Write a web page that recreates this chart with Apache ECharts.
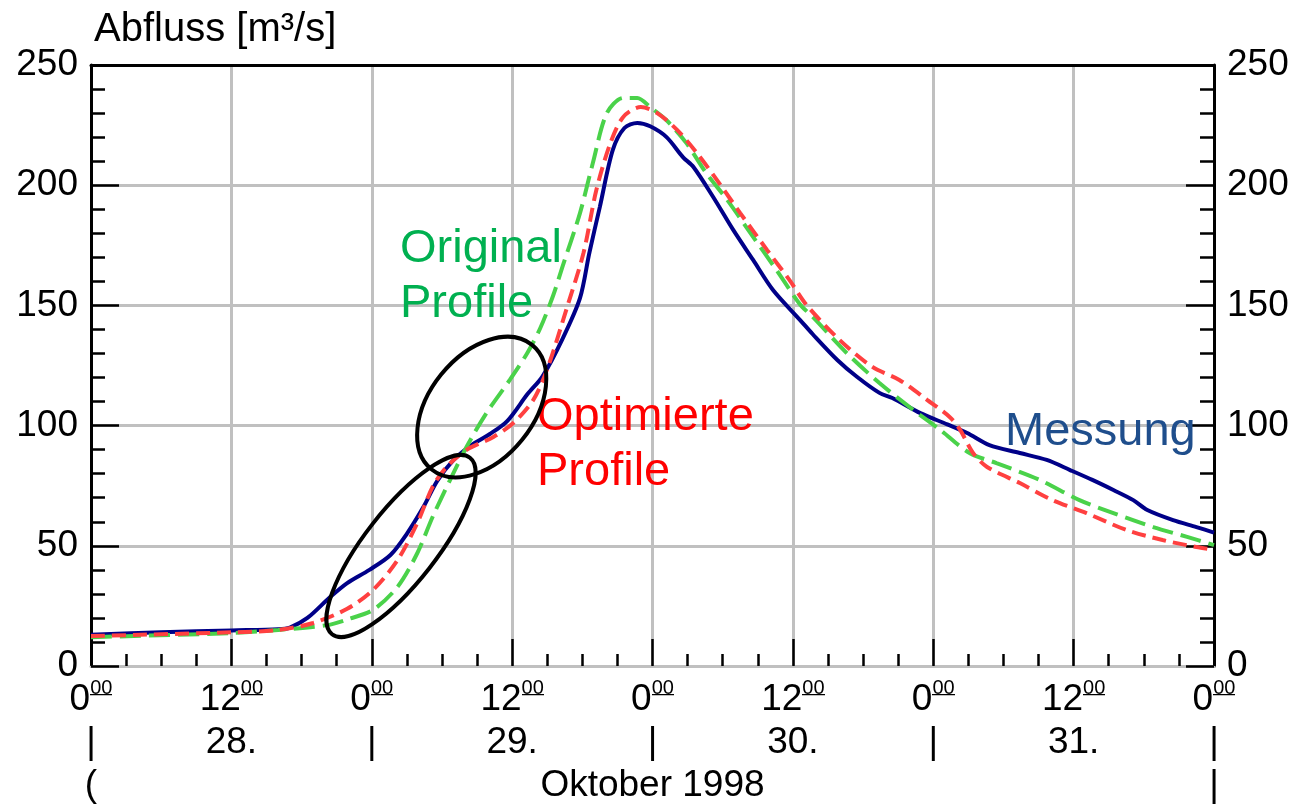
<!DOCTYPE html>
<html>
<head>
<meta charset="utf-8">
<script src="https://cdn.jsdelivr.net/npm/echarts@6/dist/echarts.min.js"></script>
<style>
  html, body { margin: 0; padding: 0; background: #fff; }
  #chart { width: 1292px; height: 804px; }
</style>
</head>
<body>
<div id="chart"></div>
<script>
// Stunden ab 28.10.1998 0:00
const messHours = [0, 6, 12, 16, 17, 18.5, 20.4, 21.9, 23.8, 25.6, 27, 28.4, 29.6, 31, 32.4, 34.1, 35.6, 37.3, 38.6, 40.3, 41.8, 42.6, 43.5, 44.6, 45.6, 46.7, 47.8, 49.2, 50.6, 51.5, 53.2, 54.9, 56.6, 58.3, 60.6, 61.7, 63.8, 65.5, 67.4, 68.5, 70.9, 73.2, 74.9, 76.8, 79.4, 81.7, 83.7, 85.6, 87.4, 89.1, 90.3, 92.5, 94.5, 96];
const messValues = [13, 14, 14.8, 15.3, 16, 20, 28.5, 34.5, 40, 46.2, 55, 66, 77, 85.7, 91.5, 96.5, 102, 113, 120.5, 136, 153, 171.8, 191, 214.6, 223.8, 225.9, 224.5, 220, 211.7, 207.6, 195, 181.4, 168.9, 156.4, 144, 138, 127.3, 120.2, 113.6, 111.5, 105.2, 100.5, 96.9, 91.9, 88.6, 85.7, 81.5, 77.4, 73.2, 69, 64.9, 60.7, 57.8, 55.5];

const origHours = [0, 12, 16, 20.2, 22, 24.1, 26.2, 27.9, 29.2, 30.7, 32.1, 33.8, 35.8, 37.3, 38.4, 39.5, 40.3, 41.8, 42.9, 44.1, 45.5, 46.7, 47.8, 49.2, 50.9, 52.6, 54.4, 56.6, 58.6, 60.6, 61.7, 64.6, 67.4, 70.3, 72.6, 75.1, 77.4, 81.1, 84.5, 87.4, 90.8, 93.7, 96];
const origValues = [12, 13.7, 15, 17, 19.5, 23.3, 32.9, 47, 62, 77.4, 91.1, 105.2, 119, 130.2, 140.5, 154, 166, 188.4, 209.2, 230, 236.3, 236.3, 232.5, 227, 217.5, 205, 193.8, 178.5, 164.7, 150.5, 145.2, 130.2, 117.7, 106.5, 98.2, 88.6, 84.4, 77.4, 69, 63.6, 57.8, 53.7, 50.3];

const optHours = [0, 12, 16, 19, 21.9, 24.1, 26.2, 27.9, 29.2, 30.4, 32.1, 34.4, 36.1, 37.8, 39, 40.7, 42.1, 43.2, 44.4, 45.5, 47, 48.4, 50.1, 51.8, 53.5, 55.5, 57.8, 59.7, 61.2, 64, 66.8, 69.1, 71.5, 73.4, 74.3, 75.4, 76.6, 79.4, 82.2, 85.1, 88.5, 91.6, 94.5, 96];
const optValues = [12.5, 14, 15, 17.9, 23.8, 31.6, 44, 59.5, 74.5, 82.8, 89.9, 95.3, 101.1, 110.6, 123.5, 149.3, 171.8, 198, 217.5, 228.4, 232.5, 230, 223, 213.4, 202.2, 188.4, 173, 160.6, 150, 135.6, 124.4, 119, 110.6, 103.6, 98.2, 88.6, 82.8, 76.1, 69, 63.6, 56.6, 52.4, 49.5, 48.3];

const dayLabels = ['28.', '29.', '30.', '31.'];
const monthLabel = 'Oktober 1998';

const FONT = "'Liberation Sans', Arial, sans-serif";

function pairs(hours, values) {
  return hours.map((h, i) => [h, values[i]]);
}

// Unterstrich fuer die hochgestellten Minuten
const ul = document.createElement('canvas');
ul.width = 10; ul.height = 30;
const ulc = ul.getContext('2d');
ulc.fillStyle = '#000';
ulc.fillRect(0, 24, 10, 2);

const mychart = echarts.init(document.getElementById('chart'));

const gridColor = '#c0c0c0';

const option = {
  animation: false,
  title: {
    text: 'Abfluss [m³/s]',
    left: 89,
    top: 5,
    textStyle: { fontFamily: FONT, fontSize: 40, fontWeight: 'normal', color: '#000' }
  },
  grid: { left: 91, right: 78, top: 65, bottom: 138, outerBoundsMode: 'none' },
  xAxis: [
    {
      type: 'value',
      min: 0,
      max: 96,
      interval: 12,
      axisLine: { lineStyle: { color: gridColor, width: 3 } },
      axisTick: { inside: true, length: 27, lineStyle: { color: '#000', width: 2.5 } },
      minorTick: { show: true, splitNumber: 4, length: 12, lineStyle: { color: '#000', width: 2.5 } },
      splitLine: { lineStyle: { color: gridColor, width: 3 } },
      axisLabel: {
        margin: 12,
        fontFamily: FONT,
        fontSize: 37,
        lineHeight: 43,
        color: '#000',
        formatter: function (v) {
          const hh = v % 24;
          const line1 = '{n|' + hh + '}{s|00}';
          const line2 = hh === 0 ? '{n||}' : '{n|' + dayLabels[Math.floor(v / 24)] + '}';
          let line3 = '{n| }';
          if (v === 0) line3 = '{n|(}';
          if (v === 48) line3 = '{n|' + monthLabel + '}';
          if (v === 96) line3 = '{n||}';
          return line1 + '\n' + line2 + '\n' + line3;
        },
        rich: {
          n: { fontFamily: FONT, fontSize: 37, lineHeight: 43, color: '#000' },
          s: {
            fontFamily: FONT, fontSize: 20, lineHeight: 30, color: '#000',
            verticalAlign: 'top',
            backgroundColor: { image: ul }
          }
        }
      }
    },
    {
      type: 'value',
      position: 'top',
      min: 0,
      max: 96,
      axisLine: { show: true, onZero: false, lineStyle: { color: '#000', width: 3 } },
      axisTick: { show: false },
      axisLabel: { show: false },
      splitLine: { show: false }
    }
  ],
  yAxis: [
    {
      type: 'value',
      min: 0,
      max: 250,
      interval: 50,
      axisLine: { show: true, onZero: false, lineStyle: { color: '#000', width: 3 } },
      axisTick: { show: true, inside: true, length: 28, lineStyle: { color: '#000', width: 2.5 } },
      minorTick: { show: true, splitNumber: 5, length: 14, lineStyle: { color: '#000', width: 2.5 } },
      splitLine: { lineStyle: { color: gridColor, width: 3 } },
      axisLabel: { margin: 13, fontFamily: FONT, fontSize: 37, color: '#000' }
    },
    {
      type: 'value',
      position: 'right',
      min: 0,
      max: 250,
      interval: 50,
      axisLine: { show: true, onZero: false, lineStyle: { color: '#000', width: 3 } },
      axisTick: { show: true, inside: true, length: 28, lineStyle: { color: '#000', width: 2.5 } },
      minorTick: { show: true, splitNumber: 5, length: 14, lineStyle: { color: '#000', width: 2.5 } },
      splitLine: { show: false },
      axisLabel: { margin: 13, fontFamily: FONT, fontSize: 37, color: '#000' }
    }
  ],
  series: [
    {
      name: 'Messung',
      type: 'line',
      showSymbol: false,
      smooth: 0.3,
      data: pairs(messHours, messValues),
      lineStyle: { color: '#000088', width: 4 },
      z: 3
    },
    {
      name: 'Original Profile',
      type: 'line',
      showSymbol: false,
      smooth: 0.3,
      data: pairs(origHours, origValues),
      lineStyle: { color: '#4ad24a', width: 4, type: [21, 8] },
      z: 4
    },
    {
      name: 'Optimierte Profile',
      type: 'line',
      showSymbol: false,
      smooth: 0.3,
      data: pairs(optHours, optValues),
      lineStyle: { color: '#ff4040', width: 4, type: [14, 7] },
      z: 5
    }
  ]
};

mychart.setOption(option);

// Beschriftungen und Markierungen
const e1 = mychart.convertToPixel({ xAxisIndex: 0, yAxisIndex: 0 }, [33.4, 107.7]);
const e2 = mychart.convertToPixel({ xAxisIndex: 0, yAxisIndex: 0 }, [26.5, 49.9]);

mychart.setOption({
  graphic: [
    {
      type: 'text', x: 400, y: 222, z: 10,
      style: { text: 'Original\nProfile', fontFamily: FONT, fontSize: 47, lineHeight: 55, fill: '#00b050' }
    },
    {
      type: 'text', x: 537, y: 390, z: 10,
      style: { text: 'Optimierte\nProfile', fontFamily: FONT, fontSize: 47, lineHeight: 55, fill: '#ff0000' }
    },
    {
      type: 'text', x: 1005, y: 405, z: 10,
      style: { text: 'Messung', fontFamily: FONT, fontSize: 47, lineHeight: 55, fill: '#1f4e8c' }
    },
    {
      type: 'ellipse', x: e1[0], y: e1[1], rotation: 51 * Math.PI / 180, z: 10,
      shape: { cx: 0, cy: 0, rx: 80, ry: 52 },
      style: { fill: 'none', stroke: '#000', lineWidth: 4 }
    },
    {
      type: 'ellipse', x: e2[0], y: e2[1], rotation: 52 * Math.PI / 180, z: 10,
      shape: { cx: 0, cy: 0, rx: 112, ry: 36 },
      style: { fill: 'none', stroke: '#000', lineWidth: 4 }
    }
  ]
});

window.addEventListener('resize', function () {
  mychart.resize();
});
</script>
</body>
</html>
